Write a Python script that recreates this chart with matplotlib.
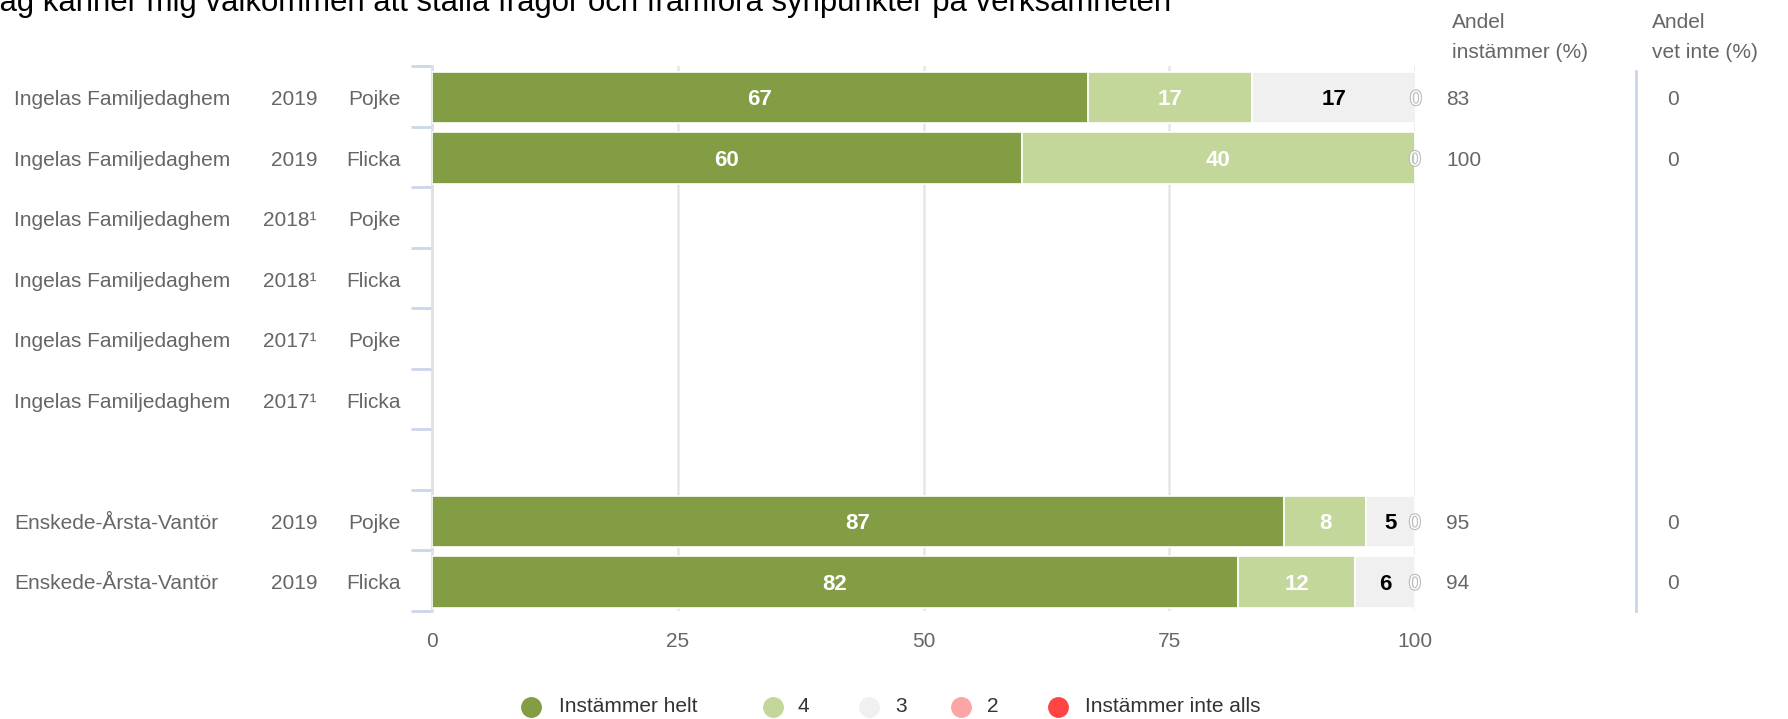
import matplotlib
matplotlib.use("Agg")
import matplotlib.pyplot as plt
import matplotlib.patheffects as pe
from matplotlib.lines import Line2D
import numpy as np

plt.rcParams["font.family"] = ["Liberation Sans", "DejaVu Sans"]

# data
title = "Jag känner mig välkommen att ställa frågor och framföra synpunkter på verksamheten"
units = ["Ingelas Familjedaghem", "Ingelas Familjedaghem", "Ingelas Familjedaghem",
         "Ingelas Familjedaghem", "Ingelas Familjedaghem", "Ingelas Familjedaghem",
         "", "Enskede-Årsta-Vantör", "Enskede-Årsta-Vantör"]
years = ["2019", "2019", "2018¹", "2018¹", "2017¹", "2017¹", "", "2019", "2019"]
sexes = ["Pojke", "Flicka", "Pojke", "Flicka", "Pojke", "Flicka", "", "Pojke", "Flicka"]

series_names = ["Instämmer helt", "4", "3", "2", "Instämmer inte alls"]
series_colors = ["#829d44", "#c4d79b", "#f0f0f0", "#fba5a5", "#ff4444"]
label_colors = ["white", "white", "black", None, None]

helt = [66.7, 60.0, None, None, None, None, None, 86.7, 82.0]
fyra = [16.7, 40.0, None, None, None, None, None, 8.3, 11.9]
tre = [16.7, 0.0, None, None, None, None, None, 5.0, 6.1]
tva = [0.0, 0.0, None, None, None, None, None, 0.0, 0.0]
inte = [0.0, 0.0, None, None, None, None, None, 0.0, 0.0]
series = [helt, fyra, tre, tva, inte]

andel_instammer = ["83", "100", "", "", "", "", "", "95", "94"]
andel_vet_inte = ["0", "0", "", "", "", "", "", "0", "0"]

xticks = [0, 25, 50, 75, 100]

W, H = 1788, 719
fig = plt.figure(figsize=(W / 100, H / 100), dpi=100)
ax = fig.add_axes([432 / W, 1 - 611 / H, (1415 - 432) / W, (611 - 66) / H])

n = len(units)
ypos = np.arange(n) + 0.02
gray = "#666666"

# stacked bars
left = np.zeros(n)
for name, vals, col, lcol in zip(series_names, series, series_colors, label_colors):
    for i, v in enumerate(vals):
        if v is None:
            continue
        if v > 0:
            ax.barh(ypos[i], v, left=left[i], height=0.85, color=col,
                    edgecolor="white", linewidth=1.2, zorder=3)
            ax.text(left[i] + v / 2, ypos[i], f"{v:.0f}", ha="center", va="center_baseline",
                    color=lcol, fontsize=16, fontweight="bold", zorder=4)
        elif name == "2":
            t = ax.text(left[i], ypos[i], "0", ha="center", va="center_baseline",
                        color="white", fontsize=15, zorder=4)
            t.set_path_effects([pe.Stroke(linewidth=1.6, foreground="#bbbbbb"), pe.Normal()])
        left[i] += v

ax.set_xlim(0, 100)
ax.set_ylim(n - 0.5, -0.5)
ax.set_xticks(xticks)
ax.set_xticklabels([str(x) for x in xticks])
ax.tick_params(axis="x", length=0, pad=15, labelsize=15, labelcolor=gray)
ax.grid(axis="x", color="#e6e6e6", linewidth=1.8, zorder=0)
ax.set_axisbelow(True)

ax.set_yticks([])
ax.set_yticks(np.arange(-0.5, n + 0.5, 1), minor=True)
ax.tick_params(axis="y", which="minor", length=15, width=2, color="#ccd6eb")
ax.tick_params(axis="y", which="major", length=0)

for s in ["top", "right", "bottom"]:
    ax.spines[s].set_visible(False)
ax.spines["left"].set_color("#e0e0e0")
ax.spines["left"].set_linewidth(2)

# category labels and the two value columns
ytr = ax.get_yaxis_transform()
for i in range(n):
    ax.text((14 - 432) / 983, ypos[i], units[i], transform=ytr, ha="left",
            va="center_baseline", fontsize=15, color=gray)
    ax.text((317 - 432) / 983, ypos[i], years[i], transform=ytr, ha="right",
            va="center_baseline", fontsize=15, color=gray)
    ax.text((401 - 432) / 983, ypos[i], sexes[i], transform=ytr, ha="right",
            va="center_baseline", fontsize=15, color=gray)
    ax.text((1446 - 432) / 983, ypos[i], andel_instammer[i], transform=ytr, ha="left",
            va="center_baseline", fontsize=15, color=gray)
    ax.text((1667 - 432) / 983, ypos[i], andel_vet_inte[i], transform=ytr, ha="left",
            va="center_baseline", fontsize=15, color=gray)

# separator before the last column
ax.add_line(Line2D([(1636 - 432) / 983] * 2, [0, 1 - 5 / 545], transform=ax.transAxes,
                   color="#ccd6eb", linewidth=2, clip_on=False))

# column headers
fig.text(1452 / W, 1 - 23 / H, "Andel", ha="left", va="center", fontsize=15, color=gray)
fig.text(1452 / W, 1 - 53 / H, "instämmer (%)", ha="left", va="center", fontsize=15, color=gray)
fig.text(1652 / W, 1 - 23 / H, "Andel", ha="left", va="center", fontsize=15, color=gray)
fig.text(1652 / W, 1 - 53 / H, "vet inte (%)", ha="left", va="center", fontsize=15, color=gray)

# title, clipped at top-left like the reference
fig.text(-16 / W, 1 - 11 / H, title, ha="left", va="baseline", fontsize=22.4, color="black")

# legend
marker_x = [531, 773, 869, 961, 1058]
text_x = [559, 798, 895, 987, 1085]
ly = 1 - 707 / H
for name, col, mx, tx in zip(series_names, series_colors, marker_x, text_x):
    fig.add_artist(Line2D([mx / W], [ly], marker="o", markersize=14, color=col,
                          linestyle="none", transform=fig.transFigure))
    fig.text(tx / W, ly, name, ha="left", va="center", fontsize=15, color="#333333")

fig.savefig("out.png", dpi=100)
